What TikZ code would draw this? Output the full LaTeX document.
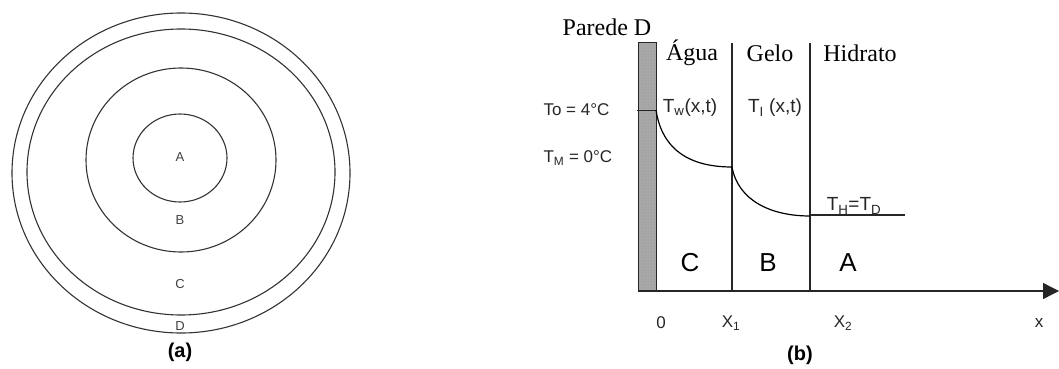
\documentclass[tikz,border=0pt]{standalone}
\usepackage{fontspec}
\setmainfont{Liberation Serif}
\setsansfont{Liberation Sans}
\usepackage{tikz}
\usetikzlibrary{arrows.meta, patterns}
\definecolor{WallGray}{HTML}{A8A8A8}
\tikzset{
  ring/.style={draw=black!80, line width=1.1pt},
  zonelbl/.style={font=\sffamily\fontsize{13}{15}\selectfont, text=black!75},
  phaselbl/.style={font=\fontsize{24}{28}\selectfont},
  templbl/.style={font=\sffamily\fontsize{17}{20}\selectfont, text=black!85},
  funclbl/.style={font=\sffamily\fontsize{19}{22}\selectfont, text=black!85},
  letterlbl/.style={font=\sffamily\fontsize{26}{30}\selectfont},
  axislbl/.style={font=\sffamily\fontsize{17}{20}\selectfont, text=black!85},
  caplbl/.style={font=\sffamily\bfseries\fontsize{20}{24}\selectfont},
  boundary/.style={black!85, line width=1.2pt}
}
\begin{document}
\begin{tikzpicture}[x=1pt, y=-1pt]
  \useasboundingbox (0,0) rectangle (1059,369);

  % (a) concentric regions A, B, C and the wall D
  \draw[ring] (181,173) ellipse (169 and 160);
  \draw[ring] (181,172) ellipse (154 and 143);
  \draw[ring] (181,160) ellipse (95 and 92);
  \draw[ring] (180,158) ellipse (47 and 44);
  \node[zonelbl] (rA) at (180,157) {A};
  \node[zonelbl] (rB) at (180,220) {B};
  \node[zonelbl] (rC) at (180,284) {C};
  \node[zonelbl] (rD) at (180,326) {D};
  \node[caplbl] (capa) at (180,352) {(a)};

  % (b) wall D, phase boundaries and the x axis
  \fill[WallGray] (638,43) rectangle (656,291);
  \fill[pattern=dots, pattern color=black!45] (638,43) rectangle (656,291);
  \draw[black!85, line width=1pt] (638,43) rectangle (656,291);
  \draw[boundary] (732,43) -- (732,291);
  \draw[boundary] (810,43) -- (810,291);
  \draw[black!85, line width=1.3pt, -{Triangle[length=16pt, width=16pt]}] (638,291) -- (1059,291);

  % temperature profile
  \draw[black!85, line width=1pt] (637,110) -- (656,110);
  \draw[black, line width=1.2pt] (656,110) .. controls (662,150) and (690,167) .. (732,167);
  \draw[black, line width=1.2pt] (732,167) .. controls (738,200) and (770,216) .. (810,216);
  \draw[black!85, line width=1.2pt] (810,215) -- (905,215);

  % labels
  \node[phaselbl] (wall) at (607,27) {Parede D};
  \node[phaselbl] (agua) at (692,53) {Água};
  \node[phaselbl] (gelo) at (770,53) {Gelo};
  \node[phaselbl] (hidr) at (860,53) {Hidrato};
  \node[templbl, anchor=west] (To) at (540,110) {To = 4°C};
  \node[templbl, anchor=west] (TM) at (540,158) {T\textsubscript{M} = 0°C};
  \node[funclbl] (Tw) at (690,108) {T\textsubscript{w}(x,t)};
  \node[funclbl] (TI) at (775,108) {T\textsubscript{I} (x,t)};
  \node[funclbl] (TH) at (854,206) {T\textsubscript{H}=T\textsubscript{D}};
  \node[letterlbl] (zC) at (690,263) {C};
  \node[letterlbl] (zB) at (768,263) {B};
  \node[letterlbl] (zA) at (848,263) {A};
  \node[axislbl] (x0) at (661,323) {0};
  \node[axislbl] (x1) at (731,323) {X\textsubscript{1}};
  \node[axislbl] (x2) at (843,323) {X\textsubscript{2}};
  \node[axislbl] (xx) at (1039,323) {x};
  \node[caplbl] (capb) at (800,355) {(b)};
\end{tikzpicture}
\end{document}
